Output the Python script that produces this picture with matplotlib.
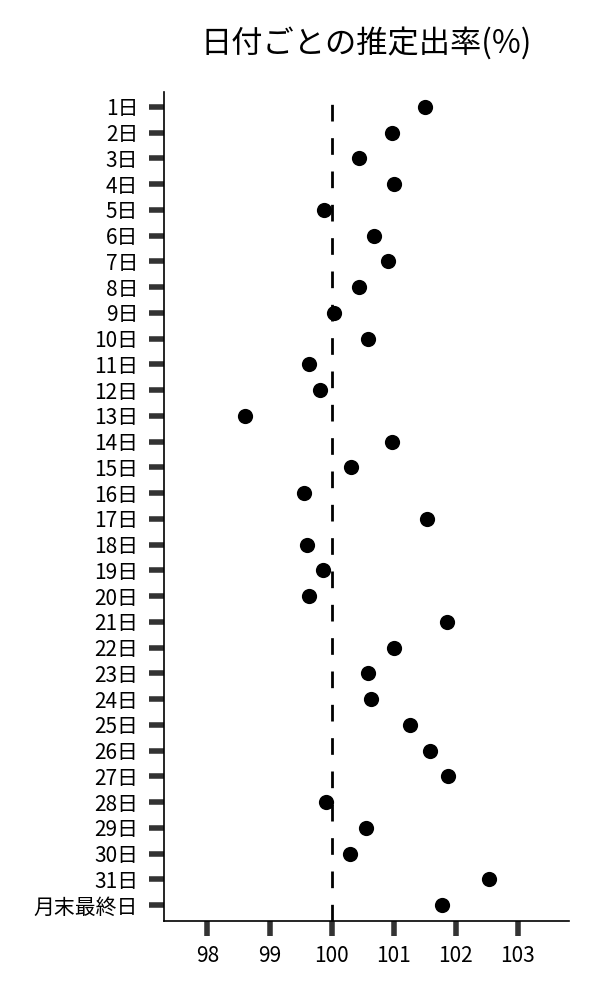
import matplotlib
matplotlib.use("Agg")
import matplotlib.pyplot as plt

plt.rcParams['font.family'] = ['Noto Sans CJK JP', 'DejaVu Sans']

days = [f"{i}日" for i in range(1, 32)] + ["月末最終日"]
rates = [101.50, 100.97, 100.44, 101.00, 99.87, 100.68, 100.91, 100.44, 100.04, 100.59,
         99.63, 99.81, 98.60, 100.97, 100.31, 99.55, 101.53, 99.60, 99.86, 99.63,
         101.86, 101.01, 100.58, 100.63, 101.27, 101.59, 101.88, 99.91, 100.55, 100.30,
         102.53, 101.77]
xticks = [98, 99, 100, 101, 102, 103]
ref_value = 100

fig = plt.figure(figsize=(6, 10), dpi=100)
ax = fig.add_axes([0.2733, 0.079, 0.6747, 0.829])

ypos = list(range(len(days)))
ax.scatter(rates, ypos, s=120, color='black', zorder=3, linewidths=0)
ax.plot([ref_value, ref_value], [31.62, -0.58], color='black', lw=2.0,
        linestyle=(0, (6, 6)), zorder=2)

ax.set_ylim(31.62, -0.58)
ax.set_xlim(97.3, 103.82)
ax.set_yticks(ypos)
ax.set_yticklabels(days)
ax.set_xticks(xticks)
ax.set_xticklabels([str(t) for t in xticks])

for s in ['top', 'right']:
    ax.spines[s].set_visible(False)
for s in ['left', 'bottom']:
    ax.spines[s].set_linewidth(1.2)
    ax.spines[s].set_color('black')

ax.tick_params(axis='y', length=10.5, width=4, color='#333333', labelsize=15, pad=8)
ax.tick_params(axis='x', length=10.5, width=4, color='#333333', labelsize=15, pad=7)

ax.set_title("日付ごとの推定出率(%)", fontsize=22.5, pad=28)

fig.savefig("out.png", dpi=100)
